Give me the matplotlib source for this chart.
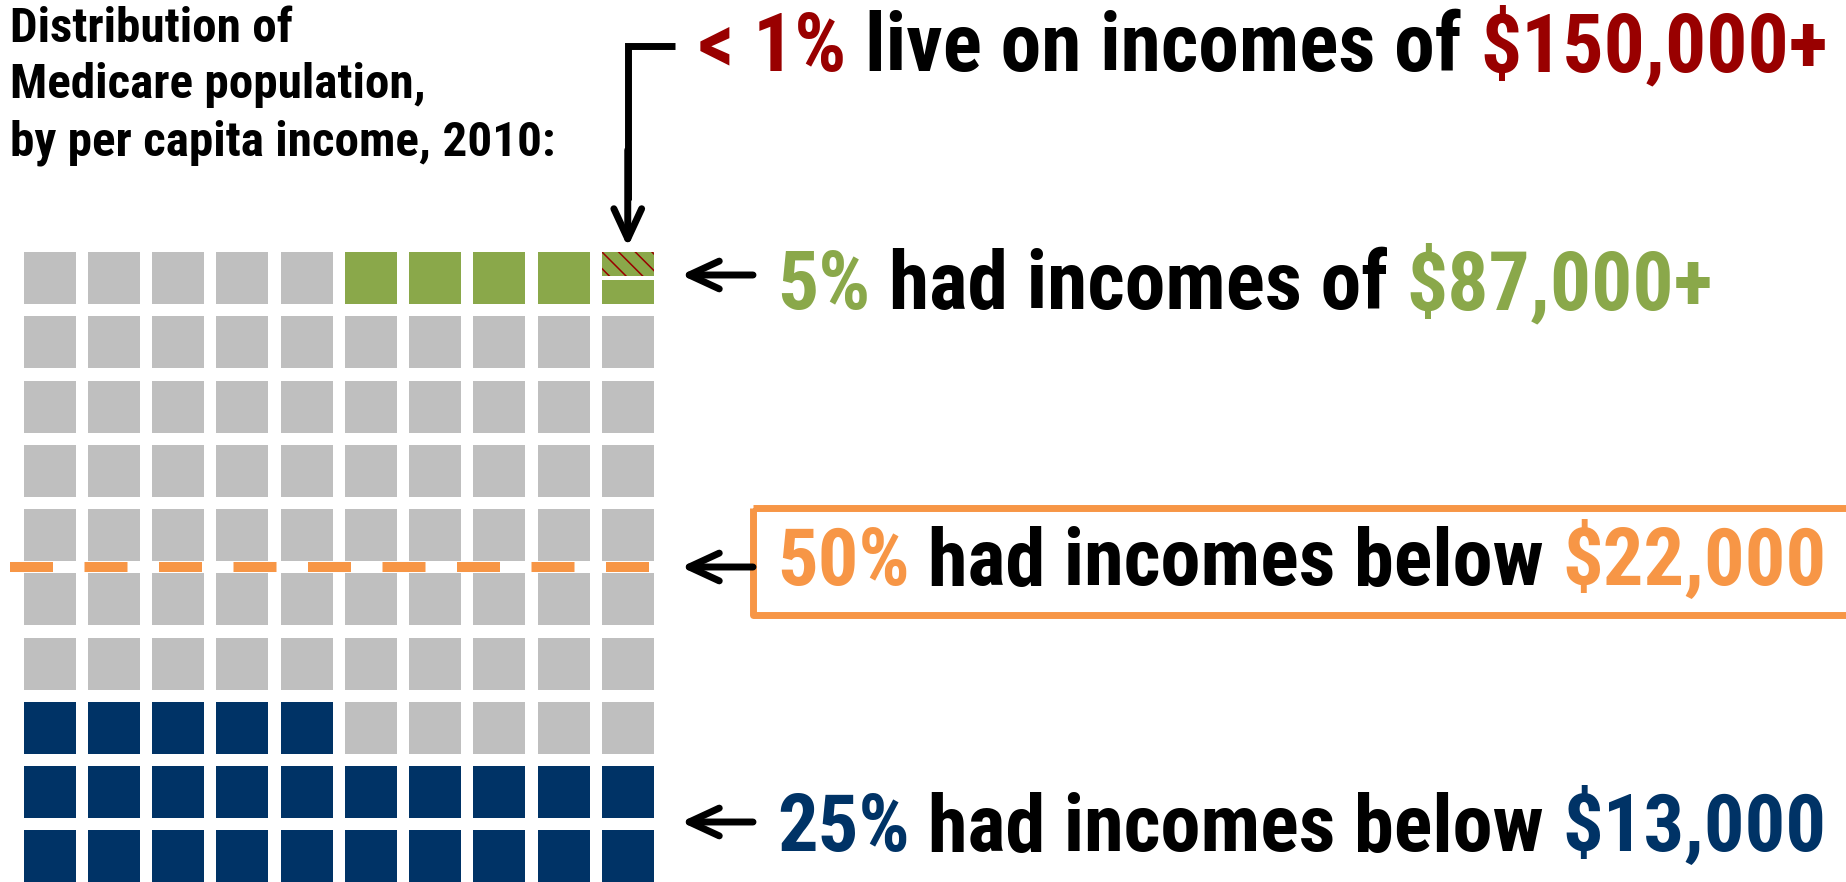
import matplotlib
matplotlib.use("Agg")
import matplotlib.pyplot as plt
from matplotlib.patches import Rectangle
from matplotlib import font_manager

# ---------------- data ----------------
grid_cols = 10
grid_rows = 10
pct_below_13k = 25        # navy cells (25% had incomes below $13,000)
pct_median = 50           # dashed line (50% had incomes below $22,000)
pct_above_87k = 5         # green cells (5% had incomes of $87,000+)
frac_cell_above_150k = 0.5  # share of one cell (< 1% live on incomes of $150,000+)

title_lines = ["Distribution of", "Medicare population,", "by per capita income, 2010:"]
label_pcts = ["< 1%", "5%", "50%", "25%"]
label_mids = ["live on incomes of", "had incomes of", "had incomes below", "had incomes below"]
label_amounts = ["$150,000+", "$87,000+", "$22,000", "$13,000"]

# ---------------- style ----------------
GRAY = "#BFBFBF"
NAVY = "#003366"
GREEN = "#8AA84A"
RED = "#990000"
ORANGE = "#F79646"
label_colors = [RED, GREEN, ORANGE, NAVY]


def pick(fams):
    for f in fams:
        try:
            font_manager.findfont(font_manager.FontProperties(family=f, weight="bold"),
                                  fallback_to_default=False)
            return f
        except Exception:
            pass
    return "DejaVu Sans"


FONT = pick(["Liberation Sans Narrow", "Roboto Condensed", "Open Sans Condensed", "Lato", "Open Sans"])
plt.rcParams["hatch.linewidth"] = 1.1

W, H, DPI = 1846, 882, 100
fig = plt.figure(figsize=(W / DPI, H / DPI), dpi=DPI)
ax = fig.add_axes([0, 0, 1, 1])
ax.set_xlim(0, W)
ax.set_ylim(H, 0)
ax.axis("off")

# ---------------- waffle ----------------
X0, Y0, PITCH, CELL = 23.5, 252, 64.25, 52
total = grid_cols * grid_rows
for k in range(total):
    r = k // grid_cols          # row counted from the bottom
    c = k % grid_cols
    x = X0 + c * PITCH
    y = Y0 + (grid_rows - 1 - r) * PITCH
    if k < pct_below_13k:
        col = NAVY
    elif k >= total - pct_above_87k:
        col = GREEN
    else:
        col = GRAY
    if k == total - 1 and frac_cell_above_150k > 0:
        gap = 3.5
        h_top = (CELL - gap) * frac_cell_above_150k
        ax.add_patch(Rectangle((x, y), CELL, h_top, facecolor=GREEN, edgecolor=RED,
                               hatch="\\\\", lw=0))
        ax.add_patch(Rectangle((x, y + h_top + gap), CELL, CELL - h_top - gap,
                               facecolor=GREEN, lw=0))
    else:
        ax.add_patch(Rectangle((x, y), CELL, CELL, facecolor=col, lw=0))

# median dashed line
rows_below_median = pct_median // grid_cols
y_med = Y0 + (grid_rows - rows_below_median) * PITCH - (PITCH - CELL) / 2
ax.plot([X0 - 13.5, X0 + (grid_cols - 1) * PITCH + CELL - 4.5], [y_med, y_med],
        color=ORANGE, lw=7.2, dashes=(4.3, 3.15), dash_capstyle="butt")

# ---------------- text ----------------
fig.canvas.draw()
renderer = fig.canvas.get_renderer()


def fp_of(size):
    return font_manager.FontProperties(family=FONT, weight="bold", size=size)


def text_width(s, fp):
    t = ax.text(0, 0, s, fontproperties=fp)
    w = t.get_window_extent(renderer).width
    t.remove()
    return w


def line_width(segs, fp):
    sp = text_width("x x", fp) - text_width("xx", fp)
    return sum(text_width(s, fp) for s, _ in segs) + sp * (len(segs) - 1)


def draw_line(x, y, segs, fp):
    sp = text_width("x x", fp) - text_width("xx", fp)
    for s, c in segs:
        t = ax.text(x, y, s, color=c, fontproperties=fp, va="baseline", ha="left")
        bb = t.get_window_extent(renderer)
        x = bb.x1 + sp


# title
tfs = 20 * 543 / text_width(title_lines[2], fp_of(20))
for i, s in enumerate(title_lines):
    ax.text(10, 41.7 + i * 56.7, s, fontproperties=fp_of(tfs), color="black",
            va="baseline", ha="left")

# labels
segs_all = [[(p, c), (m, "black"), (a, c)] for p, m, a, c in
            zip(label_pcts, label_mids, label_amounts, label_colors)]
starts = [698, 777, 777, 777]
ends = [1826, 1712, 1826, 1826]
baselines = [71.5, 309, 585, 851]
for segs, xs, xe, yb in zip(segs_all, starts, ends, baselines):
    fs = 40 * (xe - xs) / line_width(segs, fp_of(40))
    draw_line(xs, yb, segs, fp_of(fs))

# box around the median label
ax.add_patch(Rectangle((753, 508), 1200, 107, fill=False, edgecolor=ORANGE, lw=5,
                       joinstyle="round"))

# arrows
aprops = dict(arrowstyle="->,head_length=1.08,head_width=0.5", lw=5, color="black",
              shrinkA=0, shrinkB=0, mutation_scale=20, capstyle="round", joinstyle="round")
for ya in [275, 567, 822]:
    ax.annotate("", xy=(681, ya), xytext=(753, ya), arrowprops=aprops)

col_center = X0 + (grid_cols - 1) * PITCH + CELL / 2
ax.plot([675, col_center, col_center], [46, 46, 200], color="black", lw=5,
        solid_joinstyle="miter", solid_capstyle="butt")
ax.annotate("", xy=(col_center, 247), xytext=(col_center, 150), arrowprops=aprops)

fig.savefig("out.png", dpi=DPI)
